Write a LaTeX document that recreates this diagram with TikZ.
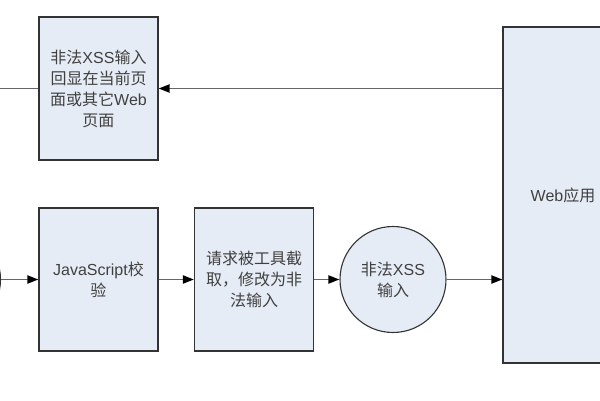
\documentclass[tikz,border=0pt]{standalone}
\usepackage{fontspec}
\setmainfont{Noto Sans CJK SC}
\newfontfamily\lat{Liberation Sans}
\usetikzlibrary{arrows.meta}
\definecolor{boxfill}{HTML}{E6ECF6}
\definecolor{boxline}{HTML}{333333}
\definecolor{flowline}{HTML}{666666}
\definecolor{txt}{HTML}{404040}
\begin{document}
\begin{tikzpicture}[x=1pt,y=-1pt,
  box/.style={draw=boxline, fill=boxfill, line width=1.1pt, inner sep=0pt,
    text=txt, align=center, font=\fontsize{16}{21}\selectfont},
  rectbox/.style={box, rectangle, minimum width=119pt, minimum height=143pt},
  roundbox/.style={box, circle, minimum size=106pt},
  flow/.style={draw=flowline, line width=1.9pt,
    -{Triangle[length=11pt,width=8pt,color=black]}},
  plain/.style={draw=flowline, line width=1.9pt}]
\path[use as bounding box] (0,0) rectangle (600,400);
\clip (0,0) rectangle (600,400);
\node[rectbox] (top) at (98.5,88.5) {非法{\lat XSS}输入\\回显在当前页\\面或其它{\lat Web}\\页面};
\node[rectbox] (js) at (98.5,279.5) {{\lat JavaScript}校\\验};
\node[rectbox] (req) at (254,279.5) {请求被工具截\\取，修改为非\\法输入};
\node[roundbox] (circ) at (393,279.5) {非法{\lat XSS}\\输入};
\node[box, rectangle, minimum width=120pt, minimum height=336pt] (web) at (563,195) {{\lat Web}应用};
\node[roundbox] (left) at (-52.5,279.5) {};
\coordinate (out) at (-20,88.5);
\draw[flow] (top.east -| web.west) -- (top.east);
\draw[plain] (top.west) -- (out);
\draw[flow] (left.east) -- (js.west);
\draw[flow] (js.east) -- (req.west);
\draw[flow] (req.east) -- (circ.west);
\draw[flow] (circ.east) -- (circ.east -| web.west);
\end{tikzpicture}
\end{document}
